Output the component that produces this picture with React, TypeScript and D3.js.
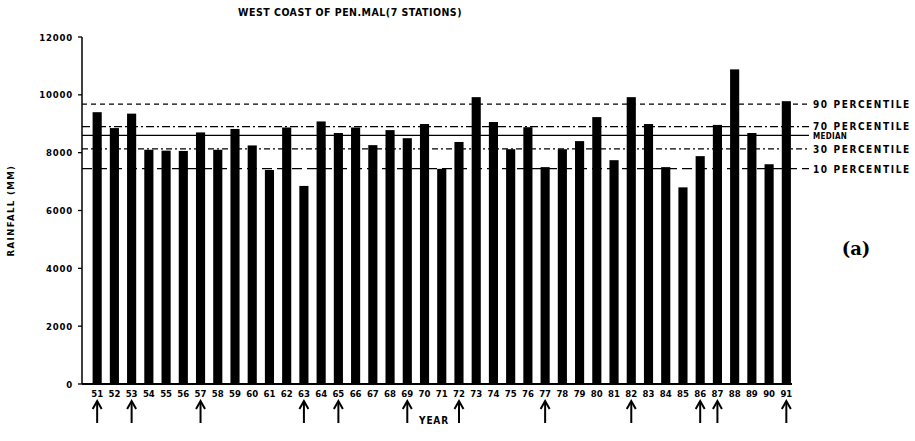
import React from 'react';
import * as d3 from 'd3';

const years = ['51', '52', '53', '54', '55', '56', '57', '58', '59', '60', '61', '62', '63', '64', '65', '66', '67', '68', '69', '70',
  '71', '72', '73', '74', '75', '76', '77', '78', '79', '80', '81', '82', '83', '84', '85', '86', '87', '88', '89', '90', '91'];
const rainfall = [9400, 8850, 9350, 8100, 8070, 8060, 8700, 8100, 8820, 8250, 7400, 8870, 6850, 9080, 8680, 8870, 8260, 8780, 8500, 8990,
  7440, 8370, 9920, 9060, 8120, 8880, 7500, 8120, 8400, 9230, 7740, 9920, 8990, 7500, 6800, 7880, 8960, 10880, 8680, 7600, 9780];
const arrowYears = ['51', '53', '57', '63', '65', '69', '72', '77', '82', '86', '87', '91'];
const yTicks = [0, 2000, 4000, 6000, 8000, 10000, 12000];
const percentileNames = ['90 PERCENTILE', '70 PERCENTILE', 'MEDIAN', '30 PERCENTILE', '10 PERCENTILE'];
const percentileValues = [9680, 8900, 8600, 8130, 7450];
const percentileDash = ['5,4', '8,3,2,3', null, '6,3,2,3', '10,5'];

const W = 915;
const H = 441;
const font = "'DejaVu Sans Condensed', 'DejaVu Sans', sans-serif";

const App = () => {
  const axisX = 82;
  const x = d3.scaleBand().domain(years).range([84.5, 799]).paddingInner(0.47).paddingOuter(0.47);
  const y = d3.scaleLinear().domain([0, 12000]).range([384, 37]);
  const center = (yr) => x(yr) + x.bandwidth() / 2;

  // small nudges so the 70th and median labels sit like the reference
  const labelShift = { '70 PERCENTILE': 1, 'MEDIAN': 4 };

  return (
    <svg width={W} height={H} style={{ position: 'absolute', left: 0, top: 0, background: '#fff' }}>
      {/* title */}
      <text x={350} y={16} textAnchor="middle" fontFamily={font} fontWeight="bold" fontSize={10.5} letterSpacing={0.5}>
        WEST COAST OF PEN.MAL(7 STATIONS)
      </text>

      {/* percentile lines */}
      {percentileValues.map((v, i) => (
        <line key={i} x1={axisX} x2={809} y1={y(v)} y2={y(v)} stroke="#000" strokeWidth={1.2}
          strokeDasharray={percentileDash[i] || undefined} />
      ))}

      {/* bars */}
      {rainfall.map((v, i) => (
        <rect key={years[i]} x={x(years[i])} y={y(v)} width={x.bandwidth()} height={y(0) - y(v)} fill="#000" />
      ))}

      {/* y axis */}
      <line x1={axisX} x2={axisX} y1={y(12000)} y2={y(0)} stroke="#000" strokeWidth={1.5} />
      <line x1={axisX} x2={792} y1={y(0)} y2={y(0)} stroke="#000" strokeWidth={1.8} />
      {yTicks.map((t) => (
        <g key={t}>
          <line x1={axisX - 4} x2={axisX} y1={y(t)} y2={y(t)} stroke="#000" strokeWidth={1.3} />
          <text x={73} y={y(t) + 3.5} textAnchor="end" fontFamily={font} fontWeight="bold" fontSize={9.5} letterSpacing={0.8}>{t}</text>
        </g>
      ))}
      <text transform={`translate(14, ${y(6000)}) rotate(-90)`} textAnchor="middle" fontFamily={font} fontWeight="bold"
        fontSize={9.5} letterSpacing={1.4}>
        RAINFALL (MM)
      </text>

      {/* x labels */}
      {years.map((yr) => (
        <text key={yr} x={center(yr)} y={397} textAnchor="middle" fontFamily={font} fontWeight="bold" fontSize={9.5}>{yr}</text>
      ))}

      {/* arrows */}
      {arrowYears.map((yr) => {
        const cx = center(yr);
        return (
          <g key={yr}>
            <line x1={cx} x2={cx} y1={403} y2={423} stroke="#000" strokeWidth={2} />
            <path d={`M${cx - 4.5},${409} L${cx},${401} L${cx + 4.5},${409}`} fill="none" stroke="#000" strokeWidth={2} />
          </g>
        );
      })}
      <text x={434} y={424} textAnchor="middle" fontFamily={font} fontWeight="bold" fontSize={10} letterSpacing={0.8}>YEAR</text>

      {/* percentile labels */}
      {percentileNames.map((name, i) => {
        const isMedian = name === 'MEDIAN';
        return (
          <text key={name} x={813} y={y(percentileValues[i]) + 4 - (labelShift[name] || 0) + (isMedian ? 2 * (labelShift[name] || 0) - 4 : 0)}
            fontFamily={font} fontWeight="bold" fontSize={isMedian ? 8 : 10} letterSpacing={isMedian ? 0.3 : 1.6}>
            {name}
          </text>
        );
      })}

      <text x={856} y={255} textAnchor="middle" fontFamily="'DejaVu Serif', 'Liberation Serif', serif" fontWeight="bold" fontSize={18}>
        (a)
      </text>
    </svg>
  );
};

export default App;
